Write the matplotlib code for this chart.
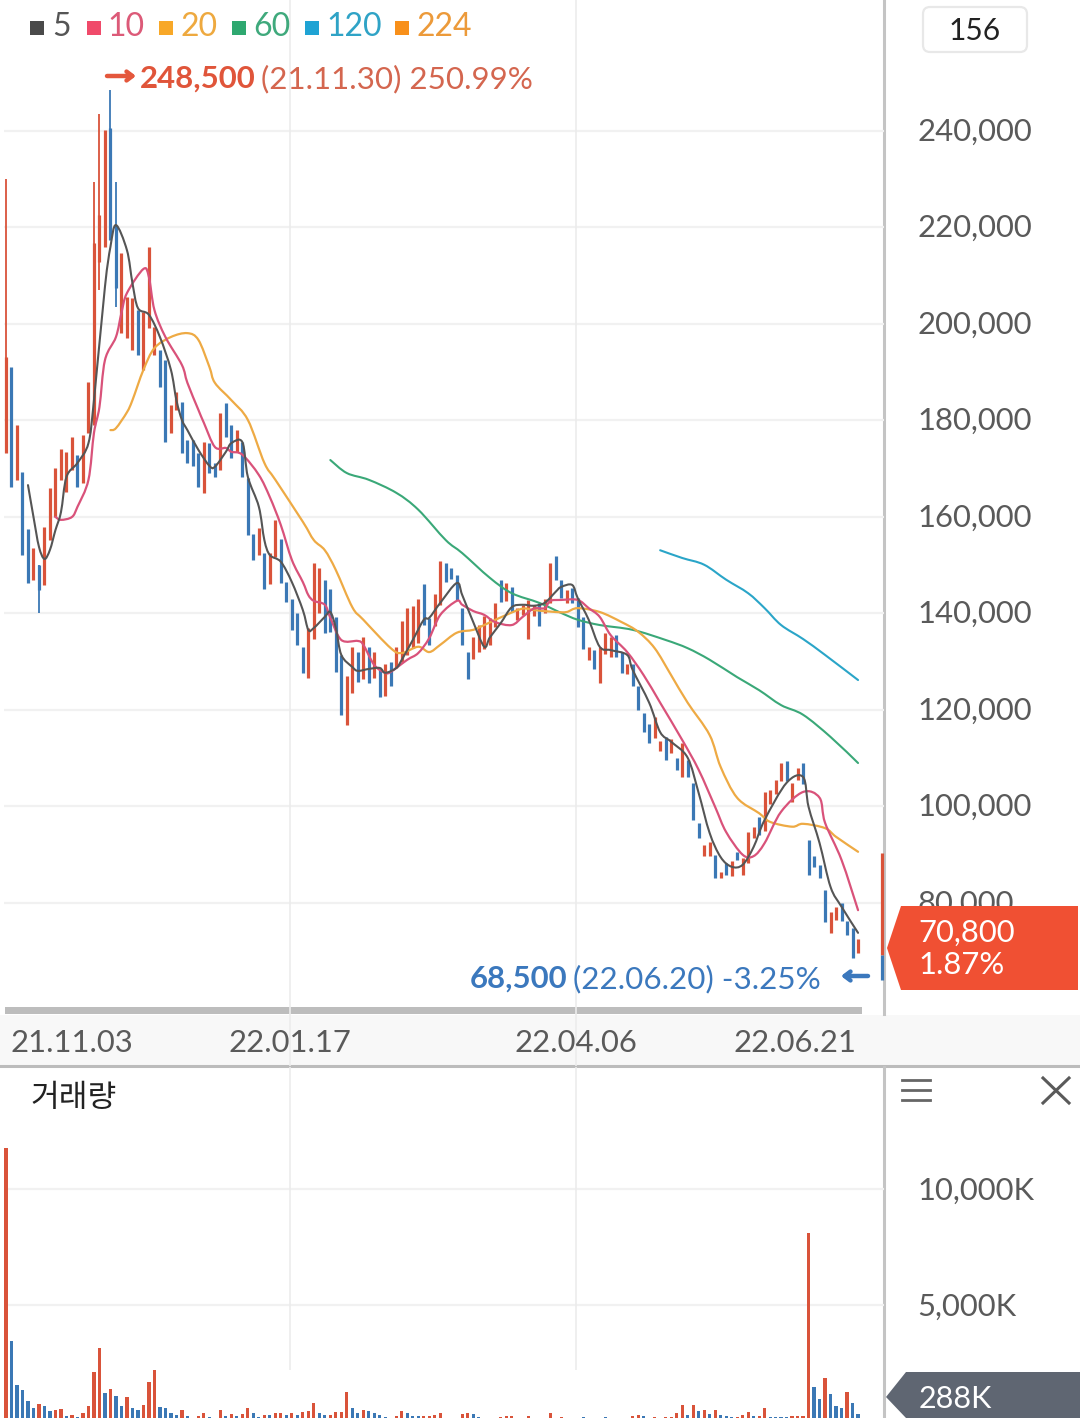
import matplotlib
matplotlib.use("Agg")
import matplotlib.pyplot as plt
from matplotlib.patches import Polygon, FancyBboxPatch, Rectangle, PathPatch
from matplotlib.path import Path
from matplotlib.transforms import ScaledTranslation

plt.rcParams["font.family"] = ["Lato", "Noto Sans CJK KR", "DejaVu Sans"]

# Price data, in thousands of won
highs = [
    230.1, 191.1, 179.1, 169.3, 157.5, 153.6, 150.1, 157.9, 166.0, 170.2,
    174.1, 173.5, 176.6, 172.9, 177.0, 188.0, 229.4, 243.5, 240.2, 248.5,
    229.4, 214.7, 205.6, 205.4, 202.9, 202.5, 216.0, 199.4, 194.6, 192.5,
    183.2, 185.9, 183.8, 176.0, 176.0, 173.3, 175.5, 175.3, 171.2, 181.6,
    183.6, 179.1, 178.0, 175.5, 168.1, 156.5, 157.7, 152.5, 152.5, 159.4,
    155.4, 146.5, 143.0, 140.1, 133.1, 137.0, 150.5, 149.4, 147.0, 145.1,
    139.3, 131.4, 127.0, 133.1, 132.0, 135.1, 133.1, 132.0, 128.3, 129.5,
    130.0, 133.1, 138.4, 141.1, 141.6, 143.0, 146.1, 139.1, 144.0, 150.9,
    150.5, 149.4, 148.0, 141.1, 132.0, 135.1, 137.6, 139.5, 139.1, 142.2,
    147.0, 146.3, 145.5, 141.1, 141.8, 142.8, 141.8, 142.2, 143.0, 150.5,
    152.0, 147.0, 144.9, 145.3, 143.2, 139.3, 133.1, 132.4, 133.1, 136.0,
    135.1, 135.5, 132.0, 129.5, 129.5, 125.0, 119.4, 117.1, 118.5, 113.6,
    114.4, 114.0, 110.1, 113.2, 109.6, 104.9, 96.6, 92.0, 92.6, 90.0,
    86.4, 88.3, 88.7, 90.6, 89.3, 94.7, 95.8, 97.8, 103.0, 103.4,
    105.5, 109.0, 109.4, 104.9, 108.0, 109.0, 93.1, 89.7, 87.9, 82.7,
    78.1, 79.2, 80.0, 76.3, 74.8, 72.5,
]
lows = [
    173.3, 166.2, 167.7, 152.1, 146.3, 146.9, 140.1, 145.9, 155.2, 160.0,
    167.7, 165.2, 169.7, 166.2, 167.1, 177.4, 179.1, 207.1, 216.0, 217.4,
    203.5, 198.1, 197.1, 194.6, 193.6, 190.5, 199.2, 193.6, 187.0, 175.5,
    177.4, 182.2, 173.3, 171.2, 170.6, 166.2, 165.0, 169.1, 168.3, 169.7,
    176.6, 172.2, 173.5, 168.3, 156.3, 151.1, 152.1, 145.1, 146.1, 151.7,
    146.3, 142.4, 136.6, 133.5, 127.7, 126.6, 134.7, 140.1, 136.0, 136.2,
    127.9, 119.0, 116.9, 123.5, 125.8, 126.4, 125.6, 126.6, 122.7, 122.9,
    125.0, 128.7, 130.0, 131.4, 132.8, 133.9, 137.6, 133.5, 137.4, 141.8,
    146.5, 147.1, 142.8, 133.5, 126.4, 130.6, 132.0, 132.6, 133.5, 137.2,
    142.4, 142.6, 140.3, 138.7, 139.7, 134.7, 139.5, 137.4, 140.1, 142.2,
    147.0, 143.2, 142.2, 142.2, 137.2, 132.6, 130.4, 128.5, 125.6, 131.6,
    131.0, 131.0, 127.7, 127.5, 125.0, 120.0, 115.4, 113.2, 114.2, 111.5,
    109.6, 111.1, 107.6, 106.1, 106.1, 97.2, 93.5, 89.7, 89.7, 85.2,
    85.2, 85.8, 85.6, 88.9, 85.8, 88.3, 93.5, 94.1, 95.0, 100.5,
    102.6, 105.3, 105.3, 101.0, 105.5, 104.6, 85.8, 87.5, 85.2, 76.1,
    73.8, 76.5, 76.3, 73.4, 68.5, 69.6,
]
candle_colors = (
    "rbrbbrbrrr" "rrrbrrrrrb" "brrrbrrrbb" "rrbbbbrbbr"
    "bbrbbbrbrr" "bbbbbrrrbb" "bbrrbrbrbr" "brrrrrbbrr"
    "bbbbbrrrrr" "brbrrrrbrr" "bbrbbbrbrr" "rbbrbbbbrr"
    "brbrbbbrrb" "rbrbrrrbrr" "rrbrrbbbbb" "rrbbbr"
)

# Candles with a long thin wick: index, top and bottom of the thick body
wick_idx = [0, 6, 16, 17, 19, 20]
wick_body_top = [193.2, 150.1, 216.8, 222.6, 240.6, 220.5]
wick_body_bottom = [173.3, 144.9, 179.1, 212.9, 217.4, 207.5]

# Moving averages: candle index and value
ma5_idx = [4, 5, 6, 7, 8, 9, 10, 11, 13, 15, 16, 18, 19, 20, 22, 23, 24, 26, 28, 30, 31, 32, 33, 35, 37, 38, 40, 41, 43, 44, 46, 47, 48, 50, 52, 54, 55, 56, 58, 59, 60, 61, 63, 64, 66, 68, 69, 71, 72, 74, 76, 77, 79, 82, 83, 85, 87, 88, 90, 92, 94, 96, 98, 100, 101, 103, 104, 106, 108, 110, 113, 114, 117, 119, 121, 124, 126, 128, 130, 132, 134, 136, 138, 142, 145, 146, 148, 150, 152, 155]
ma5 = [166.6, 160.0, 153.8, 151.3, 153.2, 157.3, 161.0, 168.3, 171.2, 175.3, 184.2, 207.7, 216.0, 220.5, 215.3, 208.5, 203.3, 201.9, 197.3, 190.5, 184.2, 180.1, 178.0, 173.9, 170.6, 170.4, 173.5, 175.3, 175.5, 168.3, 162.1, 155.2, 152.1, 150.7, 146.5, 140.7, 136.6, 137.0, 139.3, 140.3, 137.0, 131.4, 128.9, 128.1, 128.5, 128.7, 127.7, 128.7, 130.4, 134.5, 138.7, 139.1, 142.2, 146.3, 143.8, 138.2, 133.1, 135.0, 138.0, 141.3, 141.8, 141.6, 142.2, 144.5, 145.5, 145.9, 143.2, 138.7, 133.1, 132.4, 131.4, 128.3, 121.5, 115.4, 113.4, 110.1, 102.8, 94.5, 89.5, 87.5, 87.9, 91.6, 97.2, 104.9, 106.1, 99.9, 92.4, 83.3, 79.2, 73.8]

ma10_idx = [9, 10, 12, 13, 15, 16, 17, 18, 20, 21, 22, 25, 26, 27, 29, 32, 33, 35, 36, 38, 40, 41, 43, 46, 48, 50, 52, 54, 55, 56, 58, 59, 61, 64, 65, 67, 69, 70, 73, 75, 77, 79, 82, 83, 85, 87, 89, 92, 94, 96, 98, 99, 101, 104, 106, 108, 110, 113, 116, 119, 123, 126, 129, 131, 134, 136, 138, 141, 145, 148, 149, 152, 155]
ma10 = [160.0, 159.4, 160.0, 162.1, 167.7, 177.4, 182.8, 192.5, 197.3, 202.3, 206.4, 211.4, 209.7, 202.9, 197.3, 191.5, 187.8, 182.2, 179.5, 174.5, 174.3, 173.5, 172.9, 168.7, 164.1, 158.3, 151.1, 146.5, 143.8, 142.6, 141.8, 139.1, 134.5, 134.3, 133.5, 129.3, 127.7, 127.9, 130.4, 131.8, 134.9, 139.7, 142.6, 141.8, 140.5, 139.7, 138.2, 137.6, 139.3, 141.0, 141.1, 142.6, 142.8, 142.8, 141.1, 139.3, 135.5, 132.0, 127.2, 121.5, 113.8, 107.6, 99.9, 94.7, 90.0, 89.7, 92.4, 98.9, 103.0, 101.8, 96.6, 88.9, 78.5]

ma20_idx = [19, 20, 22, 23, 25, 27, 30, 33, 35, 37, 38, 41, 44, 47, 49, 54, 56, 58, 60, 63, 65, 70, 72, 75, 77, 79, 82, 85, 87, 91, 94, 96, 100, 102, 104, 108, 112, 115, 118, 121, 124, 128, 130, 133, 137, 139, 143, 145, 149, 151, 155]
ma20 = [178.0, 178.4, 181.7, 184.2, 190.5, 195.0, 197.3, 198.1, 196.7, 191.1, 187.8, 184.2, 180.1, 171.2, 167.7, 159.0, 155.2, 153.1, 149.0, 141.3, 138.7, 132.8, 131.8, 133.1, 132.0, 133.5, 136.0, 136.6, 137.6, 139.7, 141.0, 140.7, 140.3, 140.3, 141.1, 140.3, 138.2, 136.2, 132.8, 127.2, 121.5, 114.8, 108.2, 101.8, 98.6, 96.8, 95.8, 96.4, 95.5, 93.7, 90.6]

ma60_idx = [59, 62, 66, 71, 75, 80, 83, 88, 92, 97, 101, 104, 108, 114, 120, 124, 128, 133, 137, 141, 145, 150, 155]
ma60 = [171.8, 169.1, 167.7, 165.0, 161.5, 155.2, 152.5, 147.4, 144.2, 142.2, 140.1, 138.7, 137.6, 136.6, 134.5, 132.8, 130.4, 126.8, 124.1, 121.0, 119.0, 114.4, 109.0]

ma120_idx = [119, 123, 127, 131, 135, 138, 141, 145, 149, 155]
ma120 = [153.1, 151.5, 150.1, 147.0, 144.2, 141.1, 137.6, 134.7, 131.4, 126.2]

# Bar on the right edge of the chart: top, middle, bottom
edge_bar_pos = 159.4
edge_bar = [90.4, 69.2, 64.0]

# Volume, in thousands of shares
volumes = [
    11770, 3448, 1552, 1336, 862, 560, 733, 647, 431, 474,
    517, 216, 259, 172, 345, 647, 2112, 3146, 1207, 1379,
    1078, 647, 1034, 560, 474, 690, 1681, 2198, 603, 560,
    345, 259, 474, 216, 0, 216, 345, 172, 0, 474,
    216, 302, 216, 302, 560, 345, 172, 259, 259, 345,
    345, 259, 345, 259, 388, 431, 776, 345, 259, 259,
    388, 388, 1250, 560, 345, 474, 431, 345, 259, 172,
    0, 216, 431, 345, 216, 216, 216, 216, 259, 345,
    130, 90, 90, 302, 345, 300, 172, 130, 90, 90,
    172, 216, 216, 90, 90, 216, 90, 90, 90, 345,
    90, 172, 130, 90, 130, 172, 90, 130, 130, 172,
    130, 90, 90, 90, 216, 259, 216, 130, 172, 90,
    172, 172, 345, 690, 259, 690, 431, 474, 302, 474,
    259, 216, 172, 172, 259, 388, 216, 216, 560, 172,
    172, 172, 172, 216, 216, 216, 8103, 1466, 948, 1853,
    1164, 647, 560, 1250, 776, 288,
]
volume_colors = (
    "rbbbbbrbbr" "rbrbrrrrbr" "bbrbbrrrbb" "bbrbbrrbbr"
    "brbrrbbrbr" "rbrbrrrbbr" "rrrbbrbbbb" "brrbbbrrrr"
    "bbbrrbbbbb" "rrrbbrbrbr" "brbbbbbbbb" "bbbbrrbbrb"
    "rrrrbrbrbr" "bbbrrrbrrb" "bbbrrrrbbr" "bbbrbb"
)

price_ticks = [80, 100, 120, 140, 160, 180, 200, 220, 240]
volume_ticks = [5000, 10000]
date_pos = [12, 51.7, 103.6, 143.5]
date_labels = ["21.11.03", "22.01.17", "22.04.06", "22.06.21"]
grid_pos = [51.7, 103.6]

legend_names = ["5", "10", "20", "60", "120", "224"]

RED = "#d9533a"
BLUE = "#3b78b5"
TICK = "#5a5a5a"
GRID = "#f1f1f1"
colors = {"r": RED, "b": BLUE}

W, H = 1080, 1418
fig = plt.figure(figsize=(W / 100, H / 100), dpi=100)


def px_axes(left, top, right, bottom, z):
    a = fig.add_axes([left / W, 1 - bottom / H, (right - left) / W, (bottom - top) / H], zorder=z)
    a.patch.set_alpha(0)
    return a


# Draw a line through the points as a smooth curve, like the chart's spline
def smooth_line(a, xs, ys, color, lw, z):
    verts = [(xs[0], ys[0])]
    codes = [Path.MOVETO]
    n = len(xs)
    for i in range(n - 1):
        x0, y0 = (xs[i - 1], ys[i - 1]) if i > 0 else (xs[i], ys[i])
        x3, y3 = (xs[i + 2], ys[i + 2]) if i + 2 < n else (xs[i + 1], ys[i + 1])
        verts.append((xs[i] + (xs[i + 1] - x0) / 6, ys[i] + (ys[i + 1] - y0) / 6))
        verts.append((xs[i + 1] - (x3 - xs[i]) / 6, ys[i + 1] - (y3 - ys[i]) / 6))
        verts.append((xs[i + 1], ys[i + 1]))
        codes += [Path.CURVE4] * 3
    a.add_patch(PathPatch(Path(verts, codes), fill=False, edgecolor=color, lw=lw, zorder=z, capstyle="round"))


# Move the tick labels up by a few pixels
def nudge_labels(a, up):
    shift = ScaledTranslation(0, up / 100, fig.dpi_scale_trans)
    for label in a.get_yticklabels():
        label.set_transform(label.get_transform() + shift)


# Backdrop and overlay work in picture pixels
bg = px_axes(0, 0, W, H, 0)
fg = px_axes(0, 0, W, H, 3)
for a in (bg, fg):
    a.set_xlim(0, W)
    a.set_ylim(H, 0)
    a.axis("off")

bg.add_patch(Rectangle((0, 1015), W, 50, color="#f8f8f8", lw=0))
bg.add_patch(Rectangle((5, 1007), 857, 7, color="#bdbdbd", lw=0))
bg.plot([0, W], [1066, 1066], color="#bcbcbc", lw=2.2)
bg.plot([884, 884], [0, 1014], color="#c4c4c4", lw=2.2)
bg.plot([884, 884], [1067, H], color="#c4c4c4", lw=2.2)

# Price panel, pixel 131 is 240 and 96.5 px make 20
ax = px_axes(4, 0, 884, 1066, 1)
ax.set_xlim(-0.364, 159.72)
ax.set_ylim(46.2, 267.15)
ax.set_yticks(price_ticks, [f"{t},000" for t in price_ticks])
ax.set_xticks(date_pos, date_labels)
ax.yaxis.tick_right()
ax.tick_params(axis="y", length=0, pad=24, labelsize=22.3, labelcolor=TICK)
ax.tick_params(axis="x", length=0, pad=-27, labelsize=22.3, labelcolor=TICK)
nudge_labels(ax, 2)
for s in ax.spines.values():
    s.set_visible(False)
ax.hlines(price_ticks, -0.364, 159.72, color=GRID, lw=1.6, zorder=1)
ax.vlines(grid_pos, 46.2, 267.15, color="#ececec", lw=1.2, zorder=1)

for i, (hi, lo, c) in enumerate(zip(highs, lows, candle_colors)):
    if i in wick_idx:
        k = wick_idx.index(i)
        ax.vlines(i, lo, hi, color=colors[c], lw=1.3, zorder=2)
        ax.vlines(i, wick_body_bottom[k], wick_body_top[k], color=colors[c], lw=2.3, zorder=2)
    else:
        ax.vlines(i, lo, hi, color=colors[c], lw=2.3, zorder=2)

smooth_line(ax, ma120_idx, ma120, "#2aa5c8", 1.5, 3)
smooth_line(ax, ma60_idx, ma60, "#3aa878", 1.5, 3)
smooth_line(ax, ma20_idx, ma20, "#eeaa44", 1.6, 3)
smooth_line(ax, ma10_idx, ma10, "#d9527a", 1.6, 3)
smooth_line(ax, ma5_idx, ma5, "#555555", 1.5, 4)

ax.vlines(edge_bar_pos, edge_bar[1], edge_bar[0], color=RED, lw=2.3, zorder=4, clip_on=False)
ax.vlines(edge_bar_pos, edge_bar[2], edge_bar[1], color=BLUE, lw=2.3, zorder=4, clip_on=False)

# Volume panel, 5,000K is 116 px
ax2 = px_axes(4, 1067, 884, H, 1)
ax2.set_xlim(-0.364, 159.72)
ax2.set_ylim(129, 15257)
ax2.set_yticks(volume_ticks, ["5,000K", "10,000K"])
ax2.set_xticks([])
ax2.yaxis.tick_right()
ax2.tick_params(axis="y", length=0, pad=24, labelsize=22.3, labelcolor=TICK)
nudge_labels(ax2, 1)
for s in ax2.spines.values():
    s.set_visible(False)
ax2.hlines(volume_ticks, -0.364, 159.72, color=GRID, lw=1.6, zorder=1)
ax2.vlines(grid_pos, 2190, 15257, color="#ececec", lw=1.2, zorder=1)
ax2.bar(range(len(volumes)), volumes, width=0.58, color=[colors[c] for c in volume_colors], zorder=2)

# Legend row
legend_box_x = [30, 87, 159, 232, 305, 395]
legend_text_x = [52, 107, 181, 253, 326, 416]
legend_box_colors = ["#4a4a4a", "#f04a6a", "#f8a828", "#2ea870", "#1fa3d4", "#f8901a"]
legend_text_colors = ["#555555", "#dc5a78", "#eea93f", "#3fa97c", "#2fa3c6", "#ec9a3a"]
for bx, tx, bc, tc, name in zip(legend_box_x, legend_text_x, legend_box_colors, legend_text_colors, legend_names):
    fg.add_patch(Rectangle((bx, 21), 14, 14, color=bc, lw=0))
    fg.text(tx, 27, name, color=tc, fontsize=23, va="center", ha="left")

# High and low notes
fg.annotate("", xy=(136, 76), xytext=(107, 76), arrowprops=dict(arrowstyle="->,head_width=0.32,head_length=0.42", color="#e4573c", lw=3.2, shrinkA=0, shrinkB=0))
fg.text(140, 79, "248,500", color="#e0553a", fontsize=22.4, fontweight="bold", va="center")
fg.text(261, 79, "(21.11.30) 250.99%", color="#d4664f", fontsize=22.6, va="center")
fg.text(470, 979, "68,500", color="#3b78bd", fontsize=22.4, fontweight="bold", va="center")
fg.text(573, 979, "(22.06.20) -3.25%", color="#3b78bd", fontsize=22.6, va="center")
fg.annotate("", xy=(841, 976), xytext=(868, 976), arrowprops=dict(arrowstyle="->,head_width=0.32,head_length=0.42", color="#3b78bd", lw=3.2, shrinkA=0, shrinkB=0))

# Count box
fg.add_patch(FancyBboxPatch((923, 7), 104, 45, boxstyle="round,pad=0,rounding_size=7", fc="white", ec="#e8e8e8", lw=1.6))
fg.text(975, 31, "156", color="#222222", fontsize=21.5, ha="center", va="center")

# Current price tag
fg.add_patch(Polygon([(887, 948), (901, 906), (1078, 906), (1078, 990), (901, 990)], closed=True, fc="#f05033", ec="none"))
fg.text(918, 933, "70,800", color="white", fontsize=22.3, va="center")
fg.text(918, 965, "1.87%", color="white", fontsize=22.3, va="center")

# Volume tag
fg.add_patch(Polygon([(886, 1397), (906, 1372), (1080, 1372), (1080, H), (906, H)], closed=True, fc="#5f6672", ec="none"))
fg.text(919, 1399, "288K", color="white", fontsize=22, va="center")

# Volume panel title and icons
fg.text(30, 1098, "거래량", color="#222222", fontsize=22.5, va="center")
for y in (1080, 1090, 1100):
    fg.plot([902, 930], [y, y], color="#666666", lw=2)
fg.plot([1043, 1069], [1078, 1103], color="#5a5a5a", lw=2.2)
fg.plot([1043, 1069], [1103, 1078], color="#5a5a5a", lw=2.2)

fig.savefig("out.png", dpi=100)
